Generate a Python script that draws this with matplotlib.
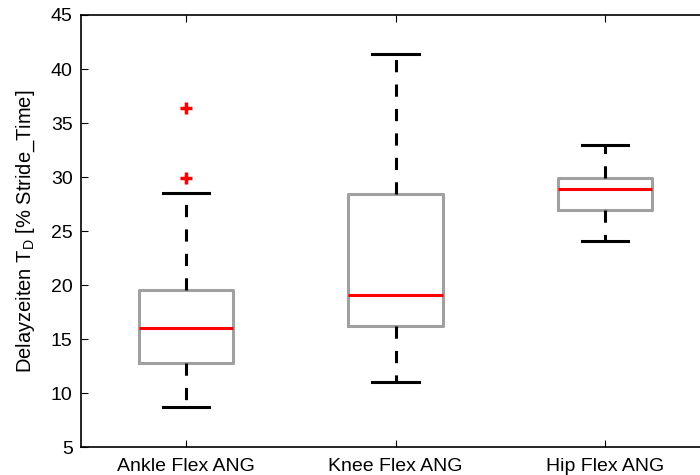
import matplotlib
matplotlib.use("Agg")
import matplotlib.pyplot as plt

plt.rcParams['font.family'] = ['Liberation Sans', 'DejaVu Sans']

# delay times per joint angle, summary statistics of the boxplot
labels = ['Ankle Flex ANG', 'Knee Flex ANG', 'Hip Flex ANG']
q1 = [12.8, 16.2, 26.9]
medians = [16.0, 19.1, 28.9]
q3 = [19.5, 28.4, 29.9]
whis_low = [8.7, 11.0, 24.1]
whis_high = [28.5, 41.4, 33.0]
outliers = [[29.9, 36.4], [], []]

stats = []
for i in range(len(labels)):
    stats.append({'label': labels[i], 'q1': q1[i], 'med': medians[i],
                  'q3': q3[i], 'whislo': whis_low[i], 'whishi': whis_high[i],
                  'fliers': outliers[i]})

fig = plt.figure(figsize=(7, 4.75), dpi=100)
ax = fig.add_axes([81 / 700, 28 / 475, 629 / 700, 432 / 475])

lw = 2.2
ax.bxp(stats, positions=[1, 2, 3], widths=0.45, capwidths=0.22,
       boxprops=dict(color='#a0a0a0', linewidth=lw),
       medianprops=dict(color='red', linewidth=lw),
       whiskerprops=dict(color='black', linewidth=lw, linestyle=(0, (4, 4))),
       capprops=dict(color='black', linewidth=lw),
       flierprops=dict(marker='+', markeredgecolor='red', markersize=9,
                       markeredgewidth=2.5))

ax.set_xlim(0.5, 3.5)
ax.set_ylim(5, 45)
ax.set_yticks(range(5, 50, 5))
ax.set_xticks([1, 2, 3])
ax.set_xticklabels(labels)
ax.tick_params(direction='in', length=5, width=0.8, labelsize=14,
               top=True, right=True)
ax.tick_params(axis='x', pad=8)
ax.tick_params(axis='y', pad=6)
for s in ax.spines.values():
    s.set_linewidth(1.2)

ax.set_ylabel(r'Delayzeiten $\mathregular{T_D}$ [% Stride_Time]',
              fontsize=14.5, labelpad=10)

fig.savefig('out.png', dpi=100)
